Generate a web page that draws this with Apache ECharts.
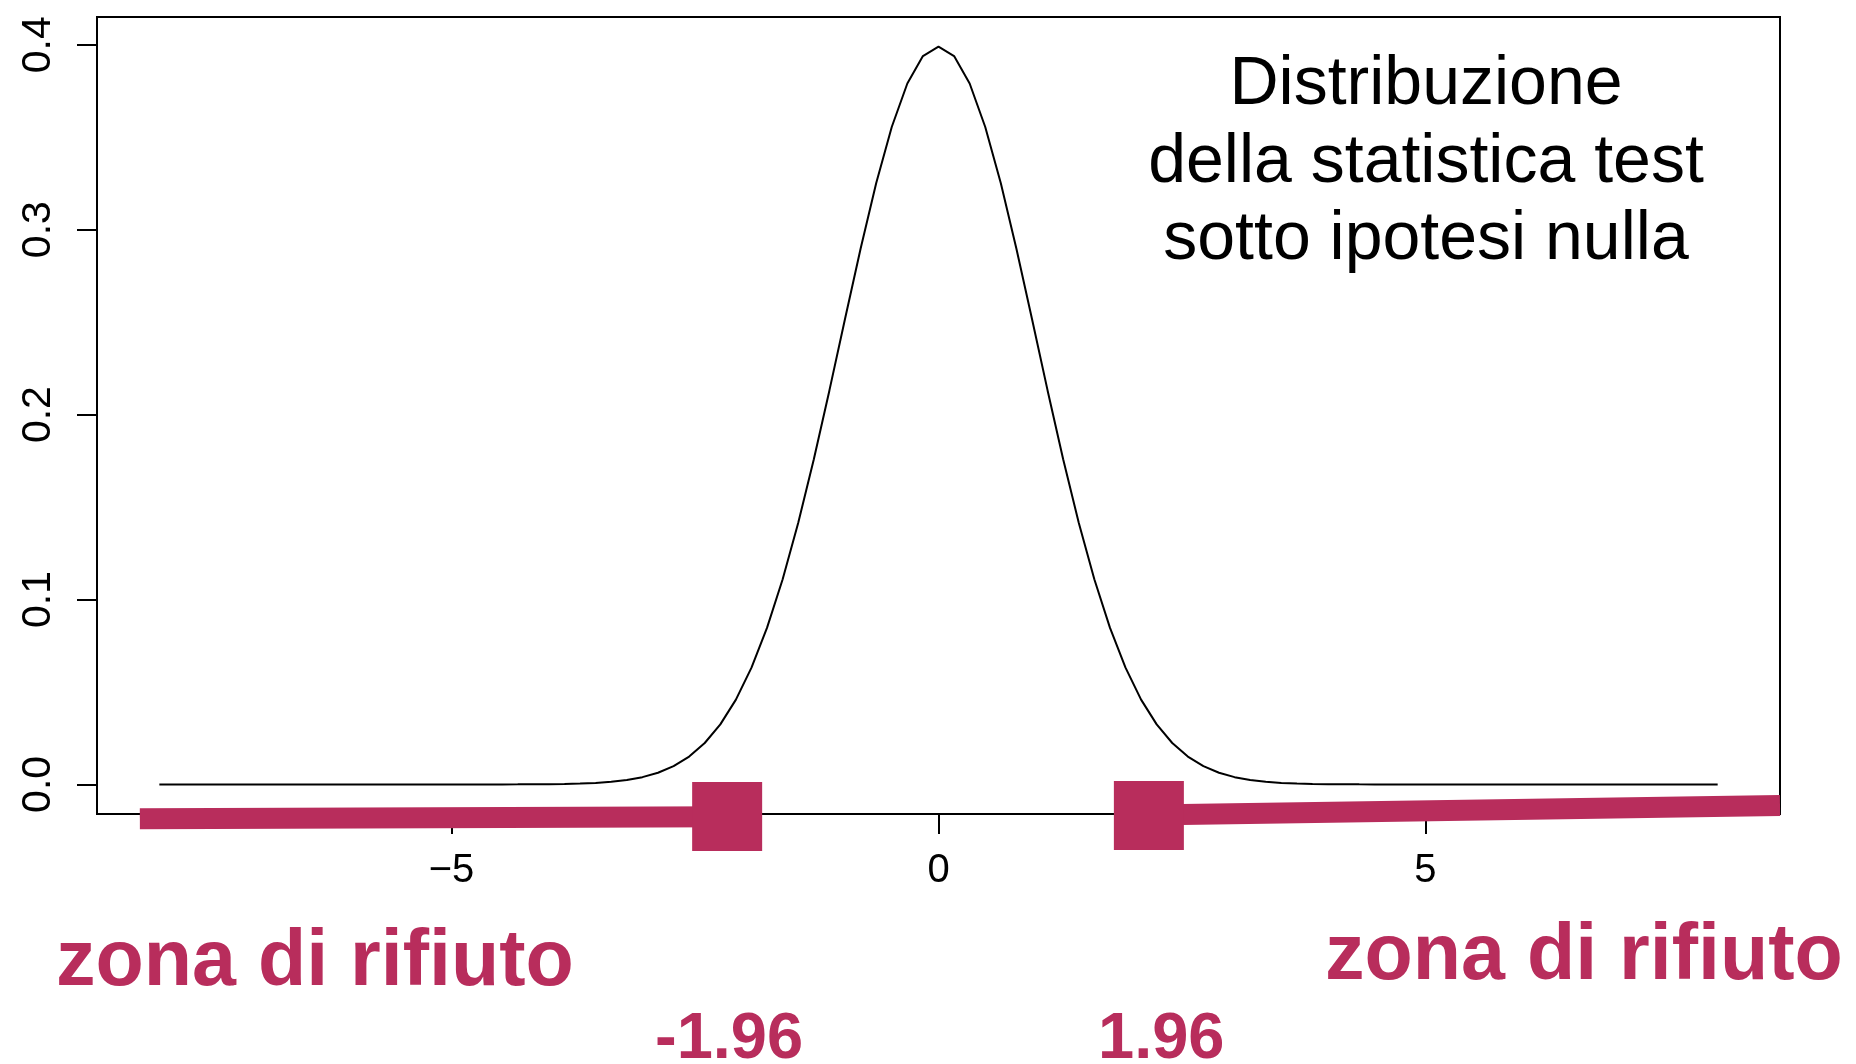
<!DOCTYPE html>
<html>
<head>
<meta charset="utf-8">
<script src="https://cdn.jsdelivr.net/npm/echarts@6/dist/echarts.min.js"></script>
<style>
html,body{margin:0;padding:0;background:#fff;}
#c{width:1856px;height:1064px;}
</style>
</head>
<body>
<div id="c"></div>
<script>
// Density curve (standard normal)
var curveX = [-8.00,-4.64,-4.48,-4.32,-4.16,-4.00,-3.84,-3.68,-3.52,-3.36,-3.20,-3.04,-2.88,-2.72,-2.56,-2.40,-2.24,-2.08,-1.92,-1.76,-1.60,-1.44,-1.28,-1.12,-0.96,-0.80,-0.64,-0.48,-0.32,-0.16,0.00,0.16,0.32,0.48,0.64,0.80,0.96,1.12,1.28,1.44,1.60,1.76,1.92,2.08,2.24,2.40,2.56,2.72,2.88,3.04,3.20,3.36,3.52,3.68,3.84,4.00,4.16,4.32,4.48,4.64,8.00];
var curveY = [0,0.0000084,0.0000175,0.0000354,0.0000697,0.000134,0.000251,0.000457,0.000813,0.001411,0.002384,0.003928,0.006307,0.009871,0.015060,0.022395,0.032460,0.045861,0.063156,0.084776,0.110921,0.141460,0.175847,0.213069,0.251644,0.289692,0.325062,0.355533,0.379031,0.393868,0.398942,0.393868,0.379031,0.355533,0.325062,0.289692,0.251644,0.213069,0.175847,0.141460,0.110921,0.084776,0.063156,0.045861,0.032460,0.022395,0.015060,0.009871,0.006307,0.003928,0.002384,0.001411,0.000813,0.000457,0.000251,0.000134,0.0000697,0.0000354,0.0000175,0.0000084,0];

// Axis ticks
var xTicks = [-5, 0, 5];
var yTicks = [0, 0.1, 0.2, 0.3, 0.4];

// Rejection-zone annotation (hand drawn bars and squares)
var leftBarX = [-8.20, -2.17];
var leftBarY = [-0.0186, -0.0175];
var rightBarX = [2.16, 8.64];
var rightBarY = [-0.0165, -0.0114];
var squareX = [-2.17, 2.16];
var squareY = [-0.0174, -0.0168];

// Texts
var titleLines = ['Distribuzione', 'della statistica test', 'sotto ipotesi nulla'];
var zoneLabel = 'zona di rifiuto';
var critLabels = ['-1.96', '1.96'];

var MAG = '#B82D5C';
function zip(a, b) { return a.map(function (v, i) { return [v, b[i]]; }); }

var chart = echarts.init(document.getElementById('c'), null, {renderer: 'canvas'});
var FONT = '"Liberation Sans", Arial, Helvetica, sans-serif';

var graphics = [];
var titleMid = [85, 163, 240.5];
titleLines.forEach(function (t, i) {
  graphics.push({type: 'text', x: 1426, y: titleMid[i], style: {text: t, fill: '#000', font: '68px ' + FONT, align: 'center', verticalAlign: 'middle'}, z: 100});
});
graphics.push({type: 'text', x: 56, y: 963, style: {text: zoneLabel, fill: MAG, font: 'bold 79px ' + FONT, align: 'left', verticalAlign: 'middle'}, z: 100});
graphics.push({type: 'text', x: 1325, y: 957, style: {text: zoneLabel, fill: MAG, font: 'bold 79px ' + FONT, align: 'left', verticalAlign: 'middle'}, z: 100});
graphics.push({type: 'text', x: 655, y: 1040, style: {text: critLabels[0], fill: MAG, font: 'bold 65px ' + FONT, align: 'left', verticalAlign: 'middle'}, z: 100});
graphics.push({type: 'text', x: 1098, y: 1040, style: {text: critLabels[1], fill: MAG, font: 'bold 65px ' + FONT, align: 'left', verticalAlign: 'middle'}, z: 100});

var option = {
  animation: false,
  backgroundColor: '#fff',
  grid: {left: 97, right: 76, top: 17, bottom: 250, show: true, borderColor: '#000', borderWidth: 2, backgroundColor: 'transparent'},
  xAxis: {
    type: 'value', min: -8.64, max: 8.64,
    axisLine: {show: false, onZero: false},
    splitLine: {show: false},
    axisTick: {show: true, length: 20, lineStyle: {color: '#000', width: 2}, customValues: xTicks},
    axisLabel: {show: true, customValues: xTicks, margin: 37, color: '#000', fontSize: 40, fontFamily: FONT,
      formatter: function (v) { return v < 0 ? '\u2212' + Math.abs(v) : String(v); }}
  },
  yAxis: {
    type: 'value', min: -0.016, max: 0.415,
    axisLine: {show: false, onZero: false},
    splitLine: {show: false},
    axisTick: {show: true, length: 20, lineStyle: {color: '#000', width: 2}, customValues: yTicks},
    axisLabel: {show: true, customValues: yTicks, margin: 38, rotate: 90, color: '#000', fontSize: 41, fontFamily: FONT,
      formatter: function (v) { return v.toFixed(1); }}
  },
  series: [
    {type: 'line', data: zip(curveX, curveY), showSymbol: false, symbol: 'none', lineStyle: {color: '#000', width: 2}, z: 2, silent: true},
    {type: 'line', data: zip(leftBarX, leftBarY), showSymbol: false, symbol: 'none', clip: false, lineStyle: {color: MAG, width: 21, cap: 'butt'}, z: 5, silent: true},
    {type: 'line', data: zip(rightBarX, rightBarY), showSymbol: false, symbol: 'none', clip: false, lineStyle: {color: MAG, width: 21, cap: 'butt'}, z: 5, silent: true},
    {type: 'scatter', data: zip(squareX, squareY), symbol: 'rect', symbolSize: [70, 69], clip: false, itemStyle: {color: MAG, opacity: 1}, z: 6, silent: true}
  ],
  graphic: graphics
};
chart.setOption(option);
</script>
</body>
</html>
